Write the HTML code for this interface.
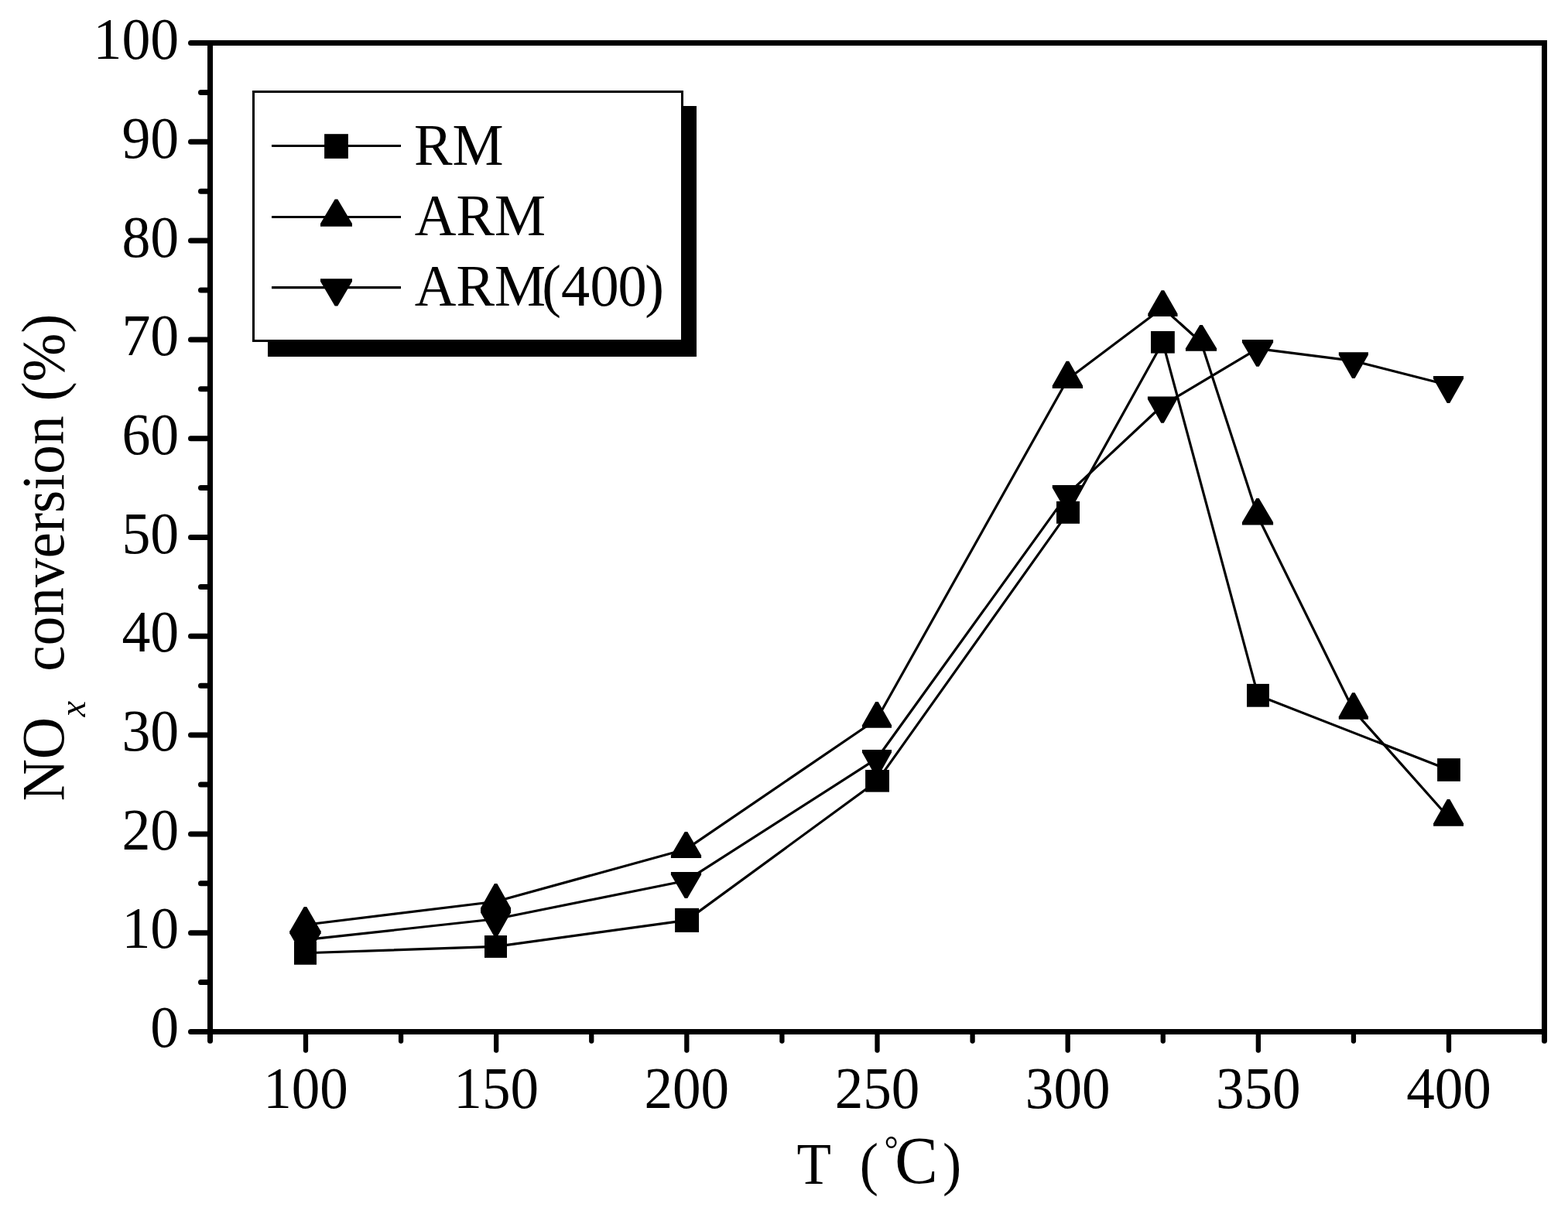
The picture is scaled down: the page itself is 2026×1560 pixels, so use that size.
<!DOCTYPE html>
<html lang="en"><head><meta charset="utf-8">
<style>html,body{margin:0;padding:0;background:#fff;}body{width:2026px;height:1560px;overflow:hidden;}svg{display:block;}text{font-family:"Liberation Serif", "Noto Serif CJK SC", serif;fill:#000;}</style></head><body>
<svg width="2026" height="1560" viewBox="0 0 2026 1560">
<rect x="0" y="0" width="2026" height="1560" fill="#fff"/>
<g stroke="#000" stroke-linecap="round" fill="none">
<line x1="246.50" y1="1333.50" x2="271.50" y2="1333.50" stroke-width="7"/>
<line x1="259.50" y1="1269.60" x2="271.50" y2="1269.60" stroke-width="7"/>
<line x1="246.50" y1="1205.70" x2="271.50" y2="1205.70" stroke-width="7"/>
<line x1="259.50" y1="1141.80" x2="271.50" y2="1141.80" stroke-width="7"/>
<line x1="246.50" y1="1077.90" x2="271.50" y2="1077.90" stroke-width="7"/>
<line x1="259.50" y1="1014.00" x2="271.50" y2="1014.00" stroke-width="7"/>
<line x1="246.50" y1="950.10" x2="271.50" y2="950.10" stroke-width="7"/>
<line x1="259.50" y1="886.20" x2="271.50" y2="886.20" stroke-width="7"/>
<line x1="246.50" y1="822.30" x2="271.50" y2="822.30" stroke-width="7"/>
<line x1="259.50" y1="758.40" x2="271.50" y2="758.40" stroke-width="7"/>
<line x1="246.50" y1="694.50" x2="271.50" y2="694.50" stroke-width="7"/>
<line x1="259.50" y1="630.60" x2="271.50" y2="630.60" stroke-width="7"/>
<line x1="246.50" y1="566.70" x2="271.50" y2="566.70" stroke-width="7"/>
<line x1="259.50" y1="502.80" x2="271.50" y2="502.80" stroke-width="7"/>
<line x1="246.50" y1="438.90" x2="271.50" y2="438.90" stroke-width="7"/>
<line x1="259.50" y1="375.00" x2="271.50" y2="375.00" stroke-width="7"/>
<line x1="246.50" y1="311.10" x2="271.50" y2="311.10" stroke-width="7"/>
<line x1="259.50" y1="247.20" x2="271.50" y2="247.20" stroke-width="7"/>
<line x1="246.50" y1="183.30" x2="271.50" y2="183.30" stroke-width="7"/>
<line x1="259.50" y1="119.40" x2="271.50" y2="119.40" stroke-width="7"/>
<line x1="246.50" y1="55.50" x2="271.50" y2="55.50" stroke-width="7"/>
<line x1="271.50" y1="1333.50" x2="271.50" y2="1345.20" stroke-width="7.0"/>
<line x1="395.00" y1="1333.50" x2="395.00" y2="1357.55" stroke-width="6.3"/>
<line x1="518.08" y1="1333.50" x2="518.08" y2="1345.55" stroke-width="6.3"/>
<line x1="641.17" y1="1333.50" x2="641.17" y2="1357.55" stroke-width="6.3"/>
<line x1="764.25" y1="1333.50" x2="764.25" y2="1345.55" stroke-width="6.3"/>
<line x1="887.33" y1="1333.50" x2="887.33" y2="1357.55" stroke-width="6.3"/>
<line x1="1010.42" y1="1333.50" x2="1010.42" y2="1345.55" stroke-width="6.3"/>
<line x1="1133.50" y1="1333.50" x2="1133.50" y2="1357.55" stroke-width="6.3"/>
<line x1="1256.58" y1="1333.50" x2="1256.58" y2="1345.55" stroke-width="6.3"/>
<line x1="1379.67" y1="1333.50" x2="1379.67" y2="1357.55" stroke-width="6.3"/>
<line x1="1502.75" y1="1333.50" x2="1502.75" y2="1345.55" stroke-width="6.3"/>
<line x1="1625.83" y1="1333.50" x2="1625.83" y2="1357.55" stroke-width="6.3"/>
<line x1="1748.92" y1="1333.50" x2="1748.92" y2="1345.55" stroke-width="6.3"/>
<line x1="1872.00" y1="1333.50" x2="1872.00" y2="1357.55" stroke-width="6.3"/>
<line x1="1995.50" y1="1333.50" x2="1995.50" y2="1345.20" stroke-width="7.0"/>
</g>
<rect x="271.5" y="55.5" width="1724.0" height="1278.0" fill="none" stroke="#000" stroke-width="7"/>
<g fill="#000" stroke="none">
<polyline fill="none" stroke="#000" stroke-width="3.2" stroke-linejoin="round" points="394.50,1231.75 640.50,1223.45 887.58,1189.35 1133.55,1009.33 1380.00,662.35 1502.40,442.30 1625.45,898.80 1872.00,995.00"/>
<rect x="380.00" y="1216.70" width="29.00" height="30.10"/>
<rect x="626.00" y="1209.00" width="29.00" height="28.90"/>
<rect x="872.10" y="1173.80" width="30.95" height="31.10"/>
<rect x="1118.10" y="995.00" width="30.90" height="28.65"/>
<rect x="1365.00" y="647.90" width="30.00" height="28.90"/>
<rect x="1487.00" y="428.00" width="30.80" height="28.60"/>
<rect x="1611.00" y="883.90" width="28.90" height="29.80"/>
<rect x="1857.10" y="980.15" width="29.80" height="29.70"/>
<polyline fill="none" stroke="#000" stroke-width="3.2" stroke-linejoin="round" points="394.50,1195.23 640.60,1165.23 886.50,1097.57 1133.00,929.53 1379.40,490.33 1502.40,397.80 1552.00,442.47 1625.00,667.03 1748.85,918.20 1871.55,1056.20"/>
<polygon points="392.75,1171.90 396.25,1171.90 414.50,1203.40 414.50,1206.90 374.50,1206.90 374.50,1203.40"/>
<polygon points="638.85,1141.90 642.35,1141.90 660.10,1173.40 660.10,1176.90 621.10,1176.90 621.10,1173.40"/>
<polygon points="884.75,1074.90 888.25,1074.90 906.10,1105.40 906.10,1108.90 866.90,1108.90 866.90,1105.40"/>
<polygon points="1131.25,907.00 1134.75,907.00 1152.00,937.30 1152.00,940.80 1114.00,940.80 1114.00,937.30"/>
<polygon points="1377.65,466.80 1381.15,466.80 1399.05,498.60 1399.05,502.10 1359.75,502.10 1359.75,498.60"/>
<polygon points="1500.65,375.30 1504.15,375.30 1521.50,405.55 1521.50,409.05 1483.30,409.05 1483.30,405.55"/>
<polygon points="1550.25,420.00 1553.75,420.00 1572.05,450.20 1572.05,453.70 1531.95,453.70 1531.95,450.20"/>
<polygon points="1623.25,644.10 1626.75,644.10 1645.10,675.00 1645.10,678.50 1604.90,678.50 1604.90,675.00"/>
<polygon points="1747.10,895.20 1750.60,895.20 1767.90,926.20 1767.90,929.70 1729.80,929.70 1729.80,926.20"/>
<polygon points="1869.80,1032.90 1873.30,1032.90 1891.00,1064.35 1891.00,1067.85 1852.10,1067.85 1852.10,1064.35"/>
<polyline fill="none" stroke="#000" stroke-width="3.2" stroke-linejoin="round" points="394.40,1214.67 640.60,1187.77 886.50,1138.30 1133.00,980.47 1379.40,638.57 1502.00,524.00 1625.00,450.63 1748.85,466.43 1871.50,497.70"/>
<polygon points="392.65,1238.00 396.15,1238.00 414.40,1206.50 414.40,1203.00 374.40,1203.00 374.40,1206.50"/>
<polygon points="638.85,1211.10 642.35,1211.10 660.10,1179.60 660.10,1176.10 621.10,1176.10 621.10,1179.60"/>
<polygon points="884.75,1161.00 888.25,1161.00 906.10,1130.45 906.10,1126.95 866.90,1126.95 866.90,1130.45"/>
<polygon points="1131.25,1003.40 1134.75,1003.40 1152.00,972.50 1152.00,969.00 1114.00,969.00 1114.00,972.50"/>
<polygon points="1377.65,661.50 1381.15,661.50 1399.05,630.60 1399.05,627.10 1359.75,627.10 1359.75,630.60"/>
<polygon points="1500.25,546.80 1503.75,546.80 1521.10,516.10 1521.10,512.60 1482.90,512.60 1482.90,516.10"/>
<polygon points="1623.25,473.70 1626.75,473.70 1645.10,442.60 1645.10,439.10 1604.90,439.10 1604.90,442.60"/>
<polygon points="1747.10,488.90 1750.60,488.90 1767.90,458.70 1767.90,455.20 1729.80,455.20 1729.80,458.70"/>
<polygon points="1869.75,521.00 1873.25,521.00 1891.03,489.55 1891.03,486.05 1851.97,486.05 1851.97,489.55"/>
</g>
<rect x="346" y="137" width="554" height="324" fill="#000"/>
<rect x="327.5" y="118.5" width="554" height="322" fill="#fff" stroke="#000" stroke-width="3"/>
<g fill="#000" stroke="#000" stroke-width="3.2">
<line x1="351" y1="188.5" x2="518" y2="188.5"/>
<line x1="351" y1="280.5" x2="518" y2="280.5"/>
<line x1="351" y1="371.6" x2="518" y2="371.6"/>
</g><g fill="#000">
<rect x="419.10" y="173.20" width="30.80" height="31.70"/>
<polygon points="432.70,257.43 436.30,257.43 455.00,289.03 455.00,292.63 414.00,292.63 414.00,289.03"/>
<polygon points="432.70,395.47 436.30,395.47 455.00,363.87 455.00,360.27 414.00,360.27 414.00,363.87"/>
</g>
<text transform="translate(534.91,212.70) scale(0.9750,1)" font-size="76.20" text-anchor="start">RM</text>
<text transform="translate(535.77,304.30) scale(0.9750,1)" font-size="76.20" text-anchor="start">ARM</text>
<text transform="translate(535.77,395.30) scale(0.9750,1)" font-size="76.20" text-anchor="start">ARM<tspan x="168.77 194.06 232.62 269.44 305.05">(400)</tspan></text>
<text transform="translate(231.30,1352.95) scale(0.9570,1)" font-size="77.20" text-anchor="end">0</text>
<text transform="translate(231.30,1225.27) scale(0.9570,1)" font-size="77.20" text-anchor="end">10</text>
<text transform="translate(231.30,1097.59) scale(0.9570,1)" font-size="77.20" text-anchor="end">20</text>
<text transform="translate(231.30,969.91) scale(0.9570,1)" font-size="77.20" text-anchor="end">30</text>
<text transform="translate(231.30,842.23) scale(0.9570,1)" font-size="77.20" text-anchor="end">40</text>
<text transform="translate(231.30,714.55) scale(0.9570,1)" font-size="77.20" text-anchor="end">50</text>
<text transform="translate(231.30,586.87) scale(0.9570,1)" font-size="77.20" text-anchor="end">60</text>
<text transform="translate(231.30,459.19) scale(0.9570,1)" font-size="77.20" text-anchor="end">70</text>
<text transform="translate(231.30,331.51) scale(0.9570,1)" font-size="77.20" text-anchor="end">80</text>
<text transform="translate(231.30,203.83) scale(0.9570,1)" font-size="77.20" text-anchor="end">90</text>
<text transform="translate(231.30,76.15) scale(0.9570,1)" font-size="77.20" text-anchor="end">100</text>
<text transform="translate(395.00,1432.00) scale(0.9500,1)" font-size="77.00" text-anchor="middle">100</text>
<text transform="translate(641.17,1432.00) scale(0.9500,1)" font-size="77.00" text-anchor="middle">150</text>
<text transform="translate(887.33,1432.00) scale(0.9500,1)" font-size="77.00" text-anchor="middle">200</text>
<text transform="translate(1133.50,1432.00) scale(0.9500,1)" font-size="77.00" text-anchor="middle">250</text>
<text transform="translate(1379.67,1432.00) scale(0.9500,1)" font-size="77.00" text-anchor="middle">300</text>
<text transform="translate(1625.83,1432.00) scale(0.9500,1)" font-size="77.00" text-anchor="middle">350</text>
<text transform="translate(1872.00,1432.00) scale(0.9500,1)" font-size="77.00" text-anchor="middle">400</text>
<text transform="translate(1029.50,1529.80) scale(0.9500,1)" font-size="76.6">T <tspan x="85.47" y="0">(</tspan><tspan x="119.05" y="-27.40" font-size="48.2">°</tspan><tspan x="133.47" y="-0.80" font-size="87.6">C</tspan><tspan x="198.32" y="0">)</tspan></text>
<text transform="translate(81.80,1035.60) rotate(-90) scale(0.9670,1)" font-size="77.90">NO<tspan x="112.82" dy="28.40" font-style="italic" font-size="47.80">x</tspan> <tspan x="173.53" dy="-28.40">conversion (%)</tspan></text>
</svg></body></html>
